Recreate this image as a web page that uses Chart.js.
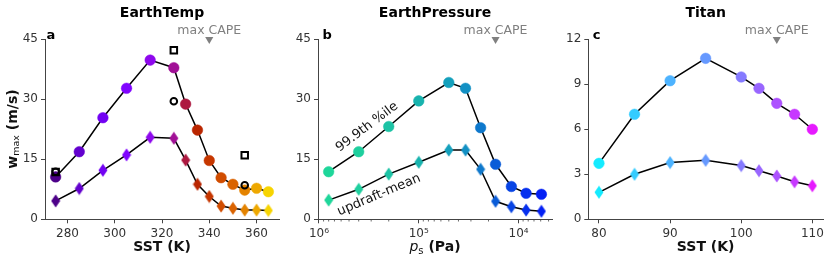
<!DOCTYPE html>
<html><head><meta charset="utf-8">
<script src="https://cdn.jsdelivr.net/npm/chart.js@4.4.1/dist/chart.umd.min.js"></script>
<style>
html,body{margin:0;padding:0;background:#fff;}
#wrap{position:relative;width:831px;height:262px;overflow:hidden;background:#fff;}
canvas{position:absolute;left:0;top:0;}
</style></head><body>
<div id="wrap">
<canvas id="ca" width="831" height="262"></canvas>
<canvas id="cb" width="831" height="262"></canvas>
<canvas id="cc" width="831" height="262"></canvas>
</div>
<script>
// ---------- Panel a: EarthTemp ----------
const sstA = [275,285,295,305,315,325,330,335,340,345,350,355,360,365];
const w999A = [10.6,16.9,25.4,32.75,39.8,37.9,28.8,22.3,14.7,10.4,8.75,7.3,7.75,6.9];
const wMeanA = [4.6,7.7,12.25,16.1,20.5,20.25,14.8,8.75,5.7,3.3,2.75,2.3,2.3,2.2];
const squareXA = [275,325,355];
const squareYA = [11.8,42.25,16];
const ringXA = [275,325,355];
const ringYA = [11.9,29.5,8.5];
const capeA = 340;
const colorsA = ['#4d0089','#6301ce','#7202f3','#8004ff','#8e08ed','#a11096','#ad1940','#ba2600','#c63700','#d14d00','#da6300','#e48300','#eea800','#f7d400'];
const xTicksA = [280,300,320,340,360];
const xLabelsA = ['280','300','320','340','360'];
const yTicksAB = [0,15,30,45];
const yLabelsAB = ['0','15','30','45'];

// ---------- Panel b: EarthPressure ----------
const psB = [8e5,4e5,2e5,1e5,5e4,3.4e4,2.4e4,1.7e4,1.18e4,8.4e3,5.9e3];
const w999B = [11.9,16.9,23.2,29.6,34.2,32.75,22.9,13.75,8.2,6.5,6.25];
const wMeanB = [4.8,7.5,11.3,14.25,17.3,17.3,12.5,4.5,3.15,2.3,2.0];
const capeB = 1.7e4;
const colorsB = ['#1ed69a','#1ecf9e','#1cc3a5','#18b3ae','#14a0bc','#1290c4','#0e78cc','#0a5cd8','#0844e4','#0630ee','#0420f4'];
const xTicksB = [1e6,1e5,1e4];
const xLabelsB = ['10\u2076','10\u2075','10\u2074'];
const xMinorTicksB = [9e5,8e5,7e5,6e5,5e5,4e5,3e5,2e5,9e4,8e4,7e4,6e4,5e4,4e4,3e4,2e4,9e3,8e3,7e3,6e3,5e3];

// ---------- Panel c: Titan ----------
const sstC = [80,85,90,95,100,102.5,105,107.5,110];
const w999C = [3.73,7.0,9.24,10.73,9.49,8.73,7.73,7.0,6.0];
const wMeanC = [1.8,3.0,3.78,3.93,3.58,3.24,2.89,2.5,2.24];
const capeC = 105;
const colorsC = ['#14ebff','#33ccff','#4db3ff','#6699ff','#857aff','#9966ff','#ad52ff','#c738ff','#e61aff'];
const xTicksC = [80,90,100,110];
const xLabelsC = ['80','90','100','110'];
const yTicksC = [0,3,6,9,12];
const yLabelsC = ['0','3','6','9','12'];

// ---------- styling ----------
const FONT = "'DejaVu Sans', sans-serif";
const SPINE = '#444';
const TICKC = '#333';
const CAPEC = '#808080';
const W = 831, H = 262;
const TOP = 39.3, BOTTOM = 219.3;
const YW = 40, XH = 30;

function diamond(color){
  const c = document.createElement('canvas');
  c.width = 10; c.height = 14;
  const g = c.getContext('2d');
  g.beginPath(); g.moveTo(5,0.5); g.lineTo(9.5,7); g.lineTo(5,13.5); g.lineTo(0.5,7); g.closePath();
  g.fillStyle = color; g.fill();
  return c;
}
function pts(xs, ys){ return xs.map((x,i)=>({x:x, y:ys[i]})); }

function drawRich(ctx, parts, cx, cy, angle, color){
  ctx.save(); ctx.translate(cx, cy); ctx.rotate(angle||0);
  ctx.fillStyle = color; ctx.textBaseline = 'alphabetic'; ctx.textAlign = 'left';
  let w = 0;
  parts.forEach(p=>{ ctx.font = p.font; p.w = ctx.measureText(p.t).width; w += p.w; });
  let x = -w/2;
  parts.forEach(p=>{ ctx.font = p.font; ctx.fillText(p.t, x, p.dy||0); x += p.w; });
  ctx.restore();
}

function makePanel(id, o){
  const datasets = [
    {data: pts(o.xs, o.hi), showLine:true, borderColor:'#000', borderWidth:1.5,
     pointStyle:'circle', pointRadius:5.3, pointBackgroundColor:o.colors, pointBorderColor:o.colors, pointBorderWidth:0.5,
     clip:false, order:3},
    {data: pts(o.xs, o.lo), showLine:true, borderColor:'#000', borderWidth:1.5,
     pointStyle:o.colors.map(diamond), pointRadius:6, clip:false, order:4},
    {data: [{x:o.cape, y:o.ymax}], showLine:false, pointStyle:'triangle', rotation:180, pointRadius:4.7,
     pointBackgroundColor:CAPEC, pointBorderColor:CAPEC, pointBorderWidth:0, clip:false, order:2}
  ];
  if (o.squares) {
    datasets.push({data: pts(o.squares[0], o.squares[1]), showLine:false, pointStyle:'rect', pointRadius:4.6,
      pointBackgroundColor:'rgba(0,0,0,0)', pointBorderColor:'#000', pointBorderWidth:2, clip:false, order:0});
    datasets.push({data: pts(o.rings[0], o.rings[1]), showLine:false, pointStyle:'circle', pointRadius:3.3,
      pointBackgroundColor:'rgba(0,0,0,0)', pointBorderColor:'#000', pointBorderWidth:2, clip:false, order:1});
  }
  const textPlugin = {
    id:'texts',
    afterDraw(chart){
      const ctx = chart.ctx, ca = chart.chartArea, xs = chart.scales.x;
      const cx = (ca.left + ca.right)/2;
      ctx.save();
      ctx.fillStyle = '#000'; ctx.textAlign = 'center'; ctx.textBaseline = 'alphabetic';
      ctx.font = 'bold 14px ' + FONT;
      ctx.fillText(o.title, cx, 17);
      ctx.textAlign = 'left'; ctx.font = 'bold 13px ' + FONT;
      ctx.fillText(o.letter, ca.left + o.letterDx, 38.5);
      ctx.textAlign = 'center'; ctx.fillStyle = CAPEC; ctx.font = '12.5px ' + FONT;
      ctx.fillText('max CAPE', xs.getPixelForValue(o.cape), 34);
      ctx.restore();
      drawRich(ctx, o.xlabel, cx, 251, 0, '#111');
      if (o.ylabel) drawRich(ctx, o.ylabel, 16.5, 129, -Math.PI/2, '#111');
      if (o.minor) {
        ctx.save(); ctx.strokeStyle = SPINE; ctx.lineWidth = 0.8;
        o.minor.forEach(v=>{
          const px = xs.getPixelForValue(v);
          if (px < ca.left - 0.5 || px > ca.right + 0.5) return;
          ctx.beginPath(); ctx.moveTo(px, ca.bottom); ctx.lineTo(px, ca.bottom + 2.2); ctx.stroke();
        });
        ctx.restore();
      }
      if (o.notes) {
        ctx.save(); ctx.fillStyle = '#111'; ctx.font = '13px ' + FONT; ctx.textAlign = 'center'; ctx.textBaseline = 'middle';
        o.notes.forEach(n=>{
          ctx.save(); ctx.translate(n.x, n.y); ctx.rotate(n.a*Math.PI/180); ctx.fillText(n.t, 0, 0); ctx.restore();
        });
        ctx.restore();
      }
    }
  };
  const axisCommon = {
    border:{display:true, color:SPINE, width:1},
    grid:{display:true, drawOnChartArea:false, drawTicks:true, tickLength:4, tickColor:SPINE, tickWidth:1},
  };
  return new Chart(document.getElementById(id), {
    type:'scatter',
    data:{datasets},
    plugins:[textPlugin],
    options:{
      responsive:false, animation:false, devicePixelRatio:1, events:[],
      layout:{padding:{left:o.left - YW, right:W - o.right, top:TOP, bottom:H - BOTTOM - XH}},
      plugins:{legend:{display:false}, tooltip:{enabled:false}, title:{display:false}},
      scales:{
        x:Object.assign({}, axisCommon, {
          type:o.xtype, min:o.xmin, max:o.xmax, reverse:!!o.xrev, bounds:'data', position:'bottom',
          ticks:{color:TICKC, font:{family:FONT, size:12}, padding:3, maxRotation:0, minRotation:0, autoSkip:false,
                 callback:(v,i)=>o.xlabels[i]},
          afterBuildTicks:s=>{ s.ticks = o.xticks.map(v=>({value:v, major:true})); },
          afterFit:s=>{ s.height = XH; s.paddingLeft = 0; s.paddingRight = 0; s.paddingTop = 0; s.paddingBottom = 0; }
        }),
        y:Object.assign({}, axisCommon, {
          type:'linear', min:0, max:o.ymax, bounds:'data', position:'left',
          ticks:{color:TICKC, font:{family:FONT, size:12}, padding:3, autoSkip:false, callback:(v,i)=>o.ylabels[i]},
          afterBuildTicks:s=>{ s.ticks = o.yticks.map(v=>({value:v})); },
          afterFit:s=>{ s.width = YW; s.paddingLeft = 0; s.paddingRight = 0; s.paddingTop = 0; s.paddingBottom = 0; }
        })
      }
    }
  });
}

const BF = 'bold 14px ' + FONT;
makePanel('ca', {
  left:45, right:279, title:'EarthTemp', letter:'a', letterDx:1.5,
  xs:sstA, hi:w999A, lo:wMeanA, colors:colorsA, cape:capeA,
  squares:[squareXA, squareYA], rings:[ringXA, ringYA],
  xtype:'linear', xmin:270.5, xmax:369.5, xticks:xTicksA, xlabels:xLabelsA,
  ymax:45, yticks:yTicksAB, ylabels:yLabelsAB,
  xlabel:[{t:'SST (K)', font:BF}],
  ylabel:[{t:'w', font:BF}, {t:'max', font:'9.5px ' + FONT, dy:2.5}, {t:' (m/s)', font:BF}]
});
makePanel('cb', {
  left:318, right:552, title:'EarthPressure', letter:'b', letterDx:4.5,
  xs:psB, hi:w999B, lo:wMeanB, colors:colorsB, cape:capeB,
  xtype:'logarithmic', xrev:true, xmin:4620, xmax:1.023e6, xticks:xTicksB, xlabels:xLabelsB, minor:xMinorTicksB,
  ymax:45, yticks:yTicksAB, ylabels:yLabelsAB,
  xlabel:[{t:'p', font:'italic 14px ' + FONT}, {t:'s', font:'10px ' + FONT, dy:2.5}, {t:' (Pa)', font:BF}],
  notes:[{t:'99.9th %ile', x:367, y:127, a:-37}, {t:'updraft-mean', x:379, y:195, a:-23}]
});
makePanel('cc', {
  left:588.3, right:823, title:'Titan', letter:'c', letterDx:4.5,
  xs:sstC, hi:w999C, lo:wMeanC, colors:colorsC, cape:capeC,
  xtype:'linear', xmin:78.5, xmax:111.5, xticks:xTicksC, xlabels:xLabelsC,
  ymax:12, yticks:yTicksC, ylabels:yLabelsC,
  xlabel:[{t:'SST (K)', font:BF}]
});
</script>
</body></html>
